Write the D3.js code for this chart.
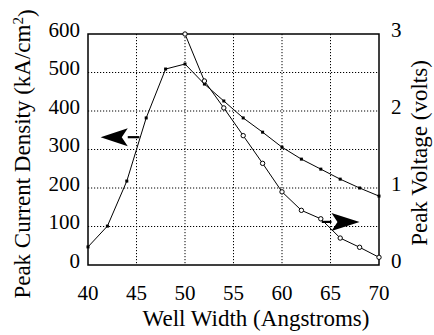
<!DOCTYPE html>
<html><head><meta charset="utf-8">
<script src="https://cdn.jsdelivr.net/npm/d3@7"></script>
</head>
<body style="margin:0">
<svg id="c" width="434" height="335" font-family="Times New Roman"></svg>
<script>
const wellWidth = [40,42,44,46,48,50,52,54,56,58,60,62,64,66,68,70];
const currentDensity = [47,101,218,382,509,522,470,426,382,345,306,275,249,223,200,179];
const voltWidth = [50,52,54,56,58,60,62,64,66,68,70];
const peakVoltage = [3.0,2.39,2.04,1.68,1.32,0.95,0.71,0.60,0.35,0.23,0.10];
const xTicks = [40,45,50,55,60,65,70];
const leftTicks = [0,100,200,300,400,500,600];
const rightTicks = [0,1,2,3];
const xTitle = "Well Width (Angstroms)";
const leftTitle = "Peak Current Density (kA/cm";
const rightTitle = "Peak Voltage (volts)";

const svg = d3.select("#c");
const L=88,R=379,T=34,B=265;
const x = d3.scaleLinear().domain([40,70]).range([L,R]);
const yL = d3.scaleLinear().domain([0,600]).range([B,T]);
const yR = d3.scaleLinear().domain([0,3]).range([B,T]);

function txt(parent, size){
  return parent.append("text").attr("font-family","Times New Roman").attr("font-size",size);
}

// grid
svg.selectAll("line.gx").data(xTicks.slice(1,-1)).enter().append("line").attr("class","gx")
 .attr("x1",d=>x(d)).attr("x2",d=>x(d)).attr("y1",T).attr("y2",B)
 .attr("stroke","#000").attr("stroke-width",1).attr("stroke-dasharray","1.2,1.8");
svg.selectAll("line.gy").data(leftTicks.slice(1,-1)).enter().append("line").attr("class","gy")
 .attr("y1",d=>yL(d)).attr("y2",d=>yL(d)).attr("x1",L).attr("x2",R)
 .attr("stroke","#000").attr("stroke-width",1).attr("stroke-dasharray","1.2,1.8");

// tick labels positioned through scales
xTicks.forEach(v=>{ txt(svg,21).attr("x",x(v)).attr("y",B+35).attr("text-anchor","middle").text(v); });
leftTicks.forEach(v=>{ txt(svg,21).attr("x",L-8).attr("y",yL(v)).attr("dy","0.12em").attr("text-anchor","end").text(v); });
rightTicks.forEach(v=>{ txt(svg,21).attr("x",R+12).attr("y",yR(v)).attr("dy","0.12em").attr("text-anchor","start").text(v); });

// frame
svg.append("rect").attr("x",L).attr("y",T).attr("width",R-L).attr("height",B-T)
 .attr("fill","none").attr("stroke","#000").attr("stroke-width",1.5);

// series
const lineC = d3.line().x((d,i)=>x(wellWidth[i])).y(d=>yL(d));
svg.append("path").attr("d",lineC(currentDensity)).attr("fill","none").attr("stroke","#000").attr("stroke-width",1);
svg.selectAll("rect.pc").data(currentDensity).enter().append("rect").attr("class","pc")
 .attr("x",(d,i)=>x(wellWidth[i])-1.5).attr("y",d=>yL(d)-1.5).attr("width",3).attr("height",3).attr("fill","#000");
const lineV = d3.line().x((d,i)=>x(voltWidth[i])).y(d=>yR(d));
svg.append("path").attr("d",lineV(peakVoltage)).attr("fill","none").attr("stroke","#000").attr("stroke-width",1);
svg.selectAll("circle.pv").data(peakVoltage).enter().append("circle").attr("class","pv")
 .attr("cx",(d,i)=>x(voltWidth[i])).attr("cy",d=>yR(d)).attr("r",2.2)
 .attr("fill","#fff").attr("stroke","#000").attr("stroke-width",1);

// arrows
function arrow(xTip, xBack, xTail, yPix, dir){
  const tx=x(xTip), bx=x(xBack), lx=x(xTail);
  svg.append("line").attr("x1",bx).attr("x2",lx).attr("y1",yPix).attr("y2",yPix)
   .attr("stroke","#000").attr("stroke-width",2.2);
  const notch = bx - dir*6;
  svg.append("path").attr("d",`M${tx},${yPix} L${bx},${yPix-9} L${notch},${yPix} L${bx},${yPix+9} Z`).attr("fill","#000");
}
arrow(41.3, 44.1, 45.3, yL(332), 1);
arrow(68.0, 65.1, 64.1, yR(0.56), -1);

// titles
txt(svg,23).attr("x",256).attr("y",326).attr("text-anchor","middle").text(xTitle);
const lt = txt(svg,23).attr("transform","translate(30,154) rotate(-90)").attr("text-anchor","middle");
lt.append("tspan").text(leftTitle);
lt.append("tspan").attr("dy","-0.45em").attr("font-size",15).text("2");
lt.append("tspan").attr("dy","0.45em").text(")");
txt(svg,23).attr("transform","translate(427,153) rotate(-90)").attr("text-anchor","middle").text(rightTitle);
</script>
</body></html>
